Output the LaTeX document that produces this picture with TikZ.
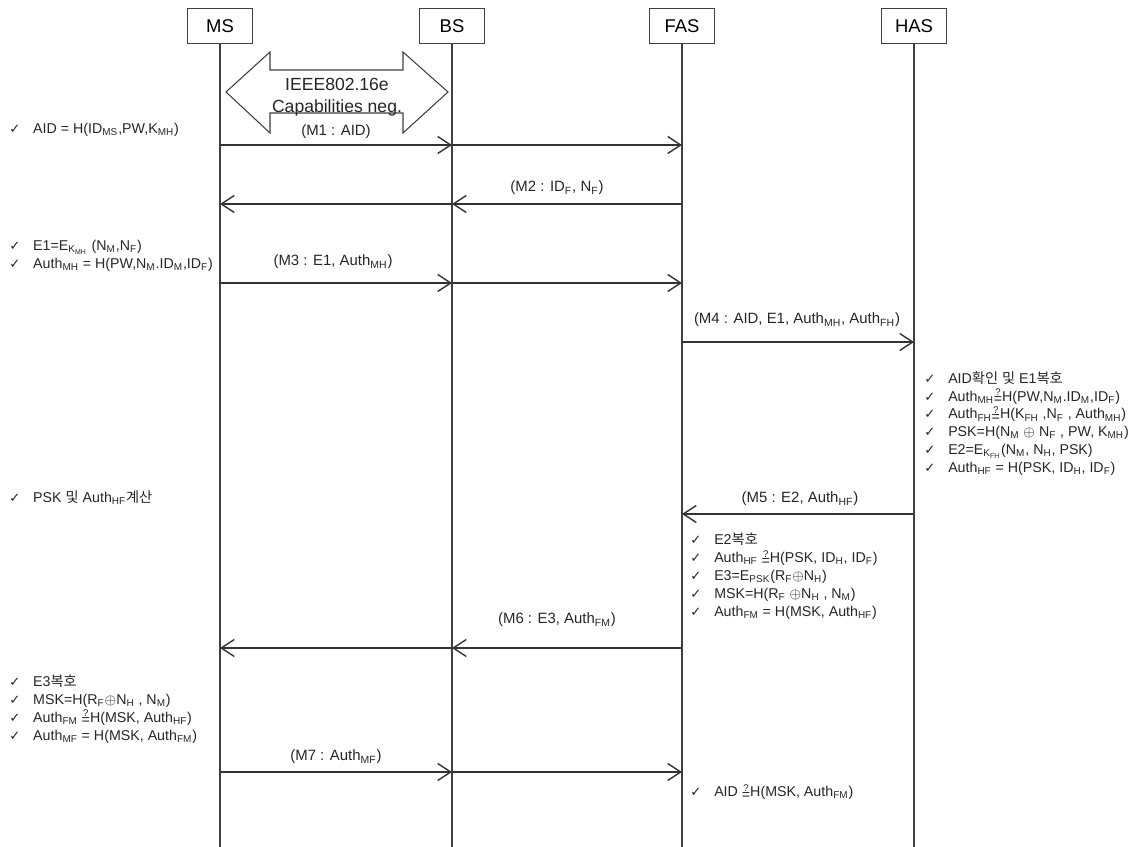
\documentclass[tikz,border=0pt]{standalone}
\usepackage{amsmath}
\usepackage{fontspec}
\setmainfont{Liberation Sans}
\newfontfamily\krfont{Noto Sans CJK KR}
\newfontfamily\symfont{DejaVu Sans}
\usetikzlibrary{arrows.meta}

\newcommand{\sub}[1]{\textsubscript{#1}}
\newcommand{\ck}{\makebox[13.6pt][l]{{\symfont\fontsize{7.5}{7.5}\selectfont ✓}}}
\newcommand{\qeq}{\smash{\ooalign{\hfil\raisebox{-0.35ex}{=}\hfil\cr
  \hfil\raisebox{0.75ex}{\fontsize{5.5}{5.5}\selectfont ?}\hfil}}}
\newcommand{\xor}{\ensuremath{\oplus}}

\begin{document}
\begin{tikzpicture}[x=0.02cm, y=-0.02cm,
  head/.style={draw=black!75, fill=white, minimum width=1.3cm, minimum height=0.7cm,
    inner sep=0pt, font=\fontsize{10.5}{12}\selectfont},
  life/.style={black!75, line width=0.6pt},
  msg/.style={black!80, line width=1.1pt,
    -{Straight Barb[length=2.6mm, width=3.4mm, line width=0.8pt]}},
  lbl/.style={inner sep=0pt, text=black!85, font=\fontsize{8.5}{10}\selectfont},
  note/.style={inner sep=0pt, anchor=west, align=left, text=black!85,
    font=\fontsize{8.1}{10.2}\selectfont}]

\useasboundingbox (0,0) rectangle (1143,847);

% Entities
\node[head] (ms)  at (220,26) {MS};
\node[head] (bs)  at (452,26) {BS};
\node[head] (fas) at (682,26) {FAS};
\node[head] (has) at (914,26) {HAS};

% Lifelines
\coordinate (bottom) at (0,847);
\draw[life] (ms)  -- (ms |- bottom);
\draw[life] (bs)  -- (bs |- bottom);
\draw[life] (fas) -- (fas |- bottom);
\draw[life] (has) -- (has |- bottom);

% Capabilities negotiation (double arrow)
\draw[black!75, fill=white, line width=0.6pt]
  (226,92) -- (270,52) -- (270,70) -- (403,70) -- (403,52) -- (448,92)
  -- (403,133) -- (403,113) -- (270,113) -- (270,133) -- cycle;
\node[align=center, inner sep=0pt, text=black!85, font=\fontsize{10}{12.5}\selectfont]
  (neg) at (337,97) {IEEE802.16e\\Capabilities neg.};

% Message levels
\coordinate (m1) at (0,145);
\coordinate (m2) at (0,204);
\coordinate (m3) at (0,283);
\coordinate (m4) at (0,342);
\coordinate (m5) at (0,514);
\coordinate (m6) at (0,648);
\coordinate (m7) at (0,772);

% M1
\draw[msg] (ms |- m1) -- (bs |- m1);
\draw[msg] (bs |- m1) -- (fas |- m1);
\node[lbl] (l1) at (336,132) {(M1 : AID)};

% M2
\draw[msg] (fas |- m2) -- (bs |- m2);
\draw[msg] (bs |- m2) -- (ms |- m2);
\node[lbl] (l2) at (557,188) {(M2 : ID\sub{F}, N\sub{F})};

% M3
\draw[msg] (ms |- m3) -- (bs |- m3);
\draw[msg] (bs |- m3) -- (fas |- m3);
\node[lbl] (l3) at (333,262) {(M3 : E1, Auth\sub{MH})};

% M4
\draw[msg] (fas |- m4) -- (has |- m4);
\node[lbl] (l4) at (797,320) {(M4 : AID, E1, Auth\sub{MH}, Auth\sub{FH})};

% M5
\draw[msg] (has |- m5) -- (fas |- m5);
\node[lbl] (l5) at (800,499) {(M5 : E2, Auth\sub{HF})};

% M6
\draw[msg] (fas |- m6) -- (bs |- m6);
\draw[msg] (bs |- m6) -- (ms |- m6);
\node[lbl] (l6) at (557,620) {(M6 : E3, Auth\sub{FM})};

% M7
\draw[msg] (ms |- m7) -- (bs |- m7);
\draw[msg] (bs |- m7) -- (fas |- m7);
\node[lbl] (l7) at (336,757) {(M7 : Auth\sub{MF})};

% Computations at MS
\node[note] (n1) at (9,130) {\ck AID = H(ID\sub{MS},PW,K\sub{MH})};
\node[note] (n2) at (9,256) {\ck E1=E\sub{K\sub{MH}} (N\sub{M},N\sub{F})\\
  \ck Auth\sub{MH} = H(PW,N\sub{M}.ID\sub{M},ID\sub{F})};
\node[note] (n3) at (9,498) {\ck PSK {\krfont 및} Auth\sub{HF}{\krfont 계산}};
\node[note] (n4) at (9,709) {\ck E3{\krfont 복호}\\
  \ck MSK=H(R\sub{F}\xor N\sub{H} , N\sub{M})\\
  \ck Auth\sub{FM} \qeq H(MSK, Auth\sub{HF})\\
  \ck Auth\sub{MF} = H(MSK, Auth\sub{FM})};

% Computations at HAS
\node[note] (n5) at (924,423.5) {\ck AID{\krfont 확인} {\krfont 및} E1{\krfont 복호}\\
  \ck Auth\sub{MH}\qeq H(PW,N\sub{M}.ID\sub{M},ID\sub{F})\\
  \ck Auth\sub{FH}\qeq H(K\sub{FH} ,N\sub{F} , Auth\sub{MH})\\
  \ck PSK=H(N\sub{M} \xor\ N\sub{F} , PW, K\sub{MH})\\
  \ck E2=E\sub{K\sub{FH}}(N\sub{M}, N\sub{H}, PSK)\\
  \ck Auth\sub{HF} = H(PSK, ID\sub{H}, ID\sub{F})};

% Computations at FAS
\node[note] (n6) at (690,576.5) {\ck E2{\krfont 복호}\\
  \ck Auth\sub{HF} \qeq H(PSK, ID\sub{H}, ID\sub{F})\\
  \ck E3=E\sub{PSK}(R\sub{F}\xor N\sub{H})\\
  \ck MSK=H(R\sub{F} \xor N\sub{H} , N\sub{M})\\
  \ck Auth\sub{FM} = H(MSK, Auth\sub{HF})};
\node[note] (n7) at (690,793) {\ck AID \qeq H(MSK, Auth\sub{FM})};

\end{tikzpicture}
\end{document}
